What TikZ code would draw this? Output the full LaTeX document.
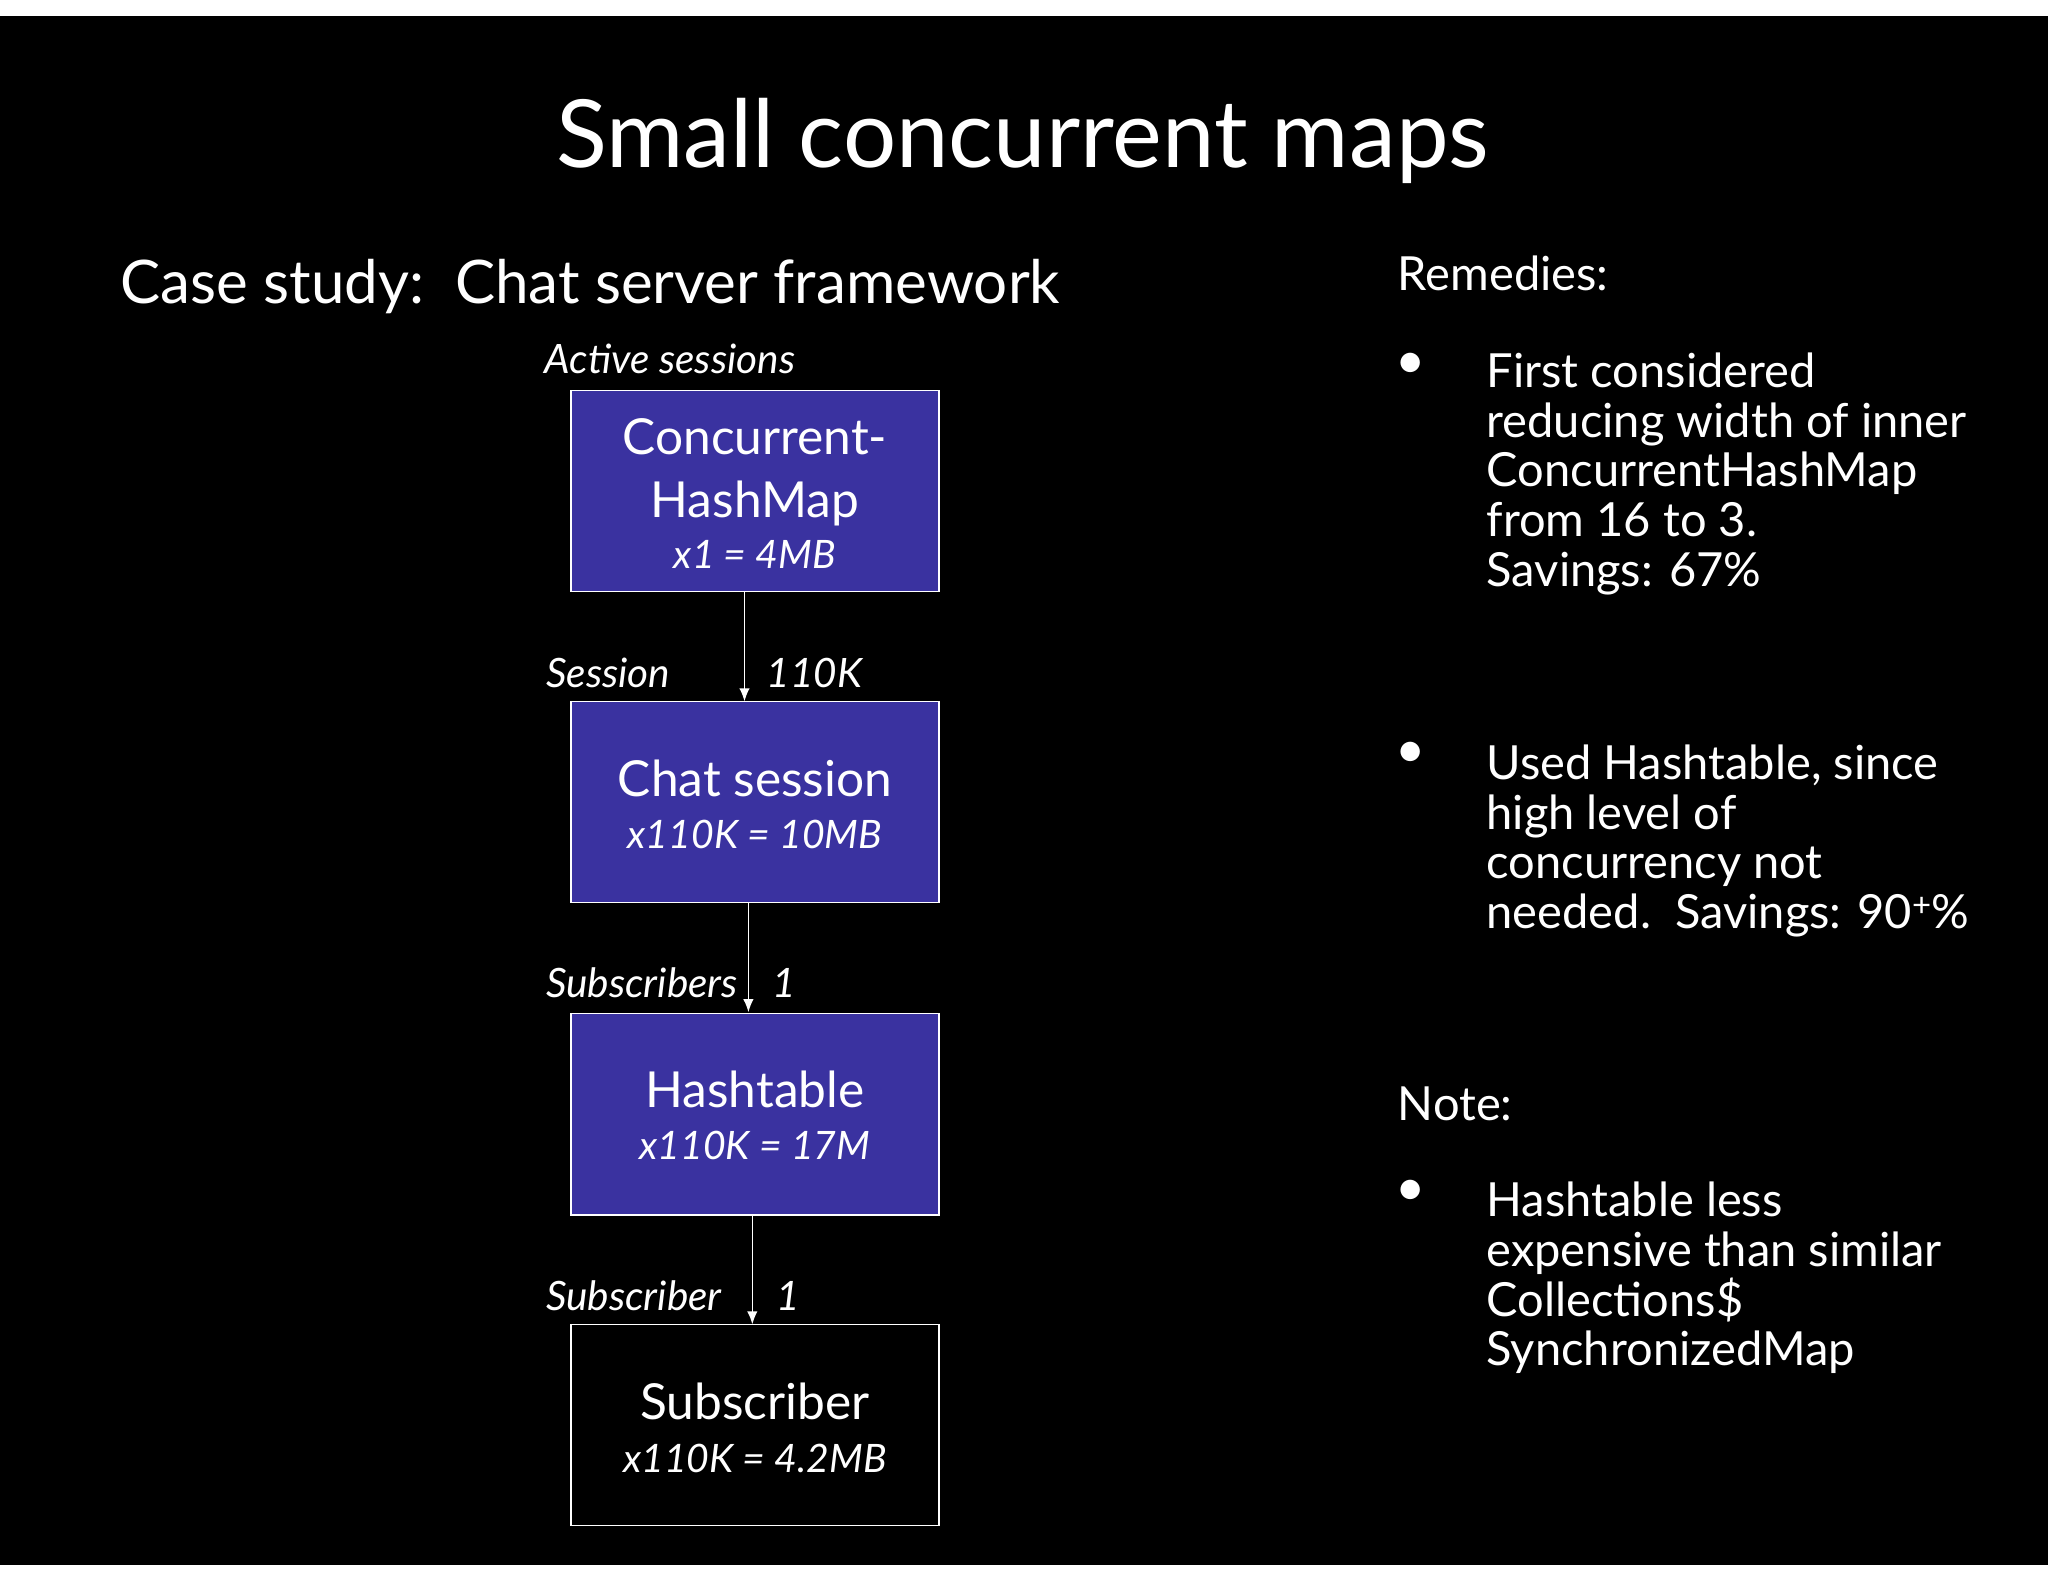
\documentclass[tikz,border=0pt]{standalone}
\usepackage{fontspec}
\setmainfont{Lato}
\usetikzlibrary{shapes.misc}
\definecolor{boxblue}{HTML}{3A32A0}
\begin{document}
\begin{tikzpicture}[x=1pt,y=-1pt,
  box/.style={draw=white,line width=1.2pt,minimum width=282pt,minimum height=154pt,inner sep=0pt,text=white,align=center},
  oct/.style={box,chamfered rectangle,chamfered rectangle xsep=42pt,chamfered rectangle ysep=42pt,fill=boxblue},
  rect/.style={box,rectangle},
  lab/.style={text=white,font=\fontsize{31}{36}\selectfont\itshape,anchor=base west,inner sep=0pt},
  body/.style={text=white,font=\fontsize{36}{38}\selectfont,anchor=north west,align=left,inner sep=0pt},
  arr/.style={draw=white,line width=1.2pt,-{Latex[length=10pt,width=8pt]}},
  big/.style={font=\fontsize{38}{40}\selectfont},
  sm/.style={font=\fontsize{30}{32}\selectfont\itshape}]
\usetikzlibrary{arrows.meta}
\useasboundingbox (0,0) rectangle (1568,1211);
\fill[white] (0,0) rectangle (1568,1211);
\fill[black] (0,12) rectangle (1568,1198);
\node[text=white,font=\fontsize{72}{80}\selectfont,anchor=base] (title) at (783,128) {Small concurrent maps};
\node[text=white,font=\fontsize{46}{50}\selectfont,anchor=base west,inner sep=0pt] (case) at (92,232) {Case study:\ \ Chat server framework};
\node[lab] (act) at (417,286) {Active sessions};
\node[oct] (chm) at (578,376) {};
\node[text=white,big,anchor=base] (t1a) at (578,348) {Concurrent-};
\node[text=white,big,anchor=base] (t1b) at (578,396) {HashMap};
\node[text=white,sm,anchor=base] (t1c) at (578,435) {x1 = 4MB};
\node[rect,fill=boxblue] (cs) at (578,614) {};
\node[text=white,big,anchor=base] (t2a) at (578,610) {Chat session};
\node[text=white,sm,anchor=base] (t2b) at (578,650) {x110K = 10MB};
\node[oct] (ht) at (578,853) {};
\node[text=white,big,anchor=base] (t3a) at (578,848) {Hashtable};
\node[text=white,sm,anchor=base] (t3b) at (578,888) {x110K = 17M};
\node[rect,fill=black] (sub) at (578,1091) {};
\node[text=white,big,anchor=base] (t4a) at (578,1087) {Subscriber};
\node[text=white,sm,anchor=base] (t4b) at (578,1127) {x110K = 4.2MB};
\coordinate (a1) at (570,453); \coordinate (b1) at (570,537);
\coordinate (a2) at (573,691); \coordinate (b2) at (573,775);
\coordinate (a3) at (576,930); \coordinate (b3) at (576,1014);
\draw[arr] (a1) -- (b1);
\draw[arr] (a2) -- (b2);
\draw[arr] (a3) -- (b3);
\node[lab] (l1) at (418,526) {Session};
\node[lab] (l1b) at (587,526) {110K};
\node[lab] (l2) at (418,764) {Subscribers};
\node[lab] (l2b) at (591,764) {1};
\node[lab] (l3) at (418,1003) {Subscriber};
\node[lab] (l3b) at (594,1003) {1};
\node[body] (rem) at (1070,196) {Remedies:};
\node[text=white,font=\fontsize{40}{40}\selectfont,inner sep=0pt] (d1) at (1080,280) {•};
\node[text=white,font=\fontsize{40}{40}\selectfont,inner sep=0pt] (d2) at (1080,578) {•};
\node[text=white,font=\fontsize{40}{40}\selectfont,inner sep=0pt] (d3) at (1080,913) {•};
\node[body] (r1) at (1138,270) {First considered\\reducing width of inner\\ConcurrentHashMap\\from 16 to 3.\\Savings: 67\%};
\node[body] (r2) at (1138,570) {Used Hashtable, since\\high level of\\concurrency not\\needed.\ \ Savings: 90\textsuperscript{+}\%};
\node[body] (note) at (1070,832) {Note:};
\node[body] (r3) at (1138,905) {Hashtable less\\expensive than similar\\Collections\$\\SynchronizedMap};
\end{tikzpicture}
\end{document}
